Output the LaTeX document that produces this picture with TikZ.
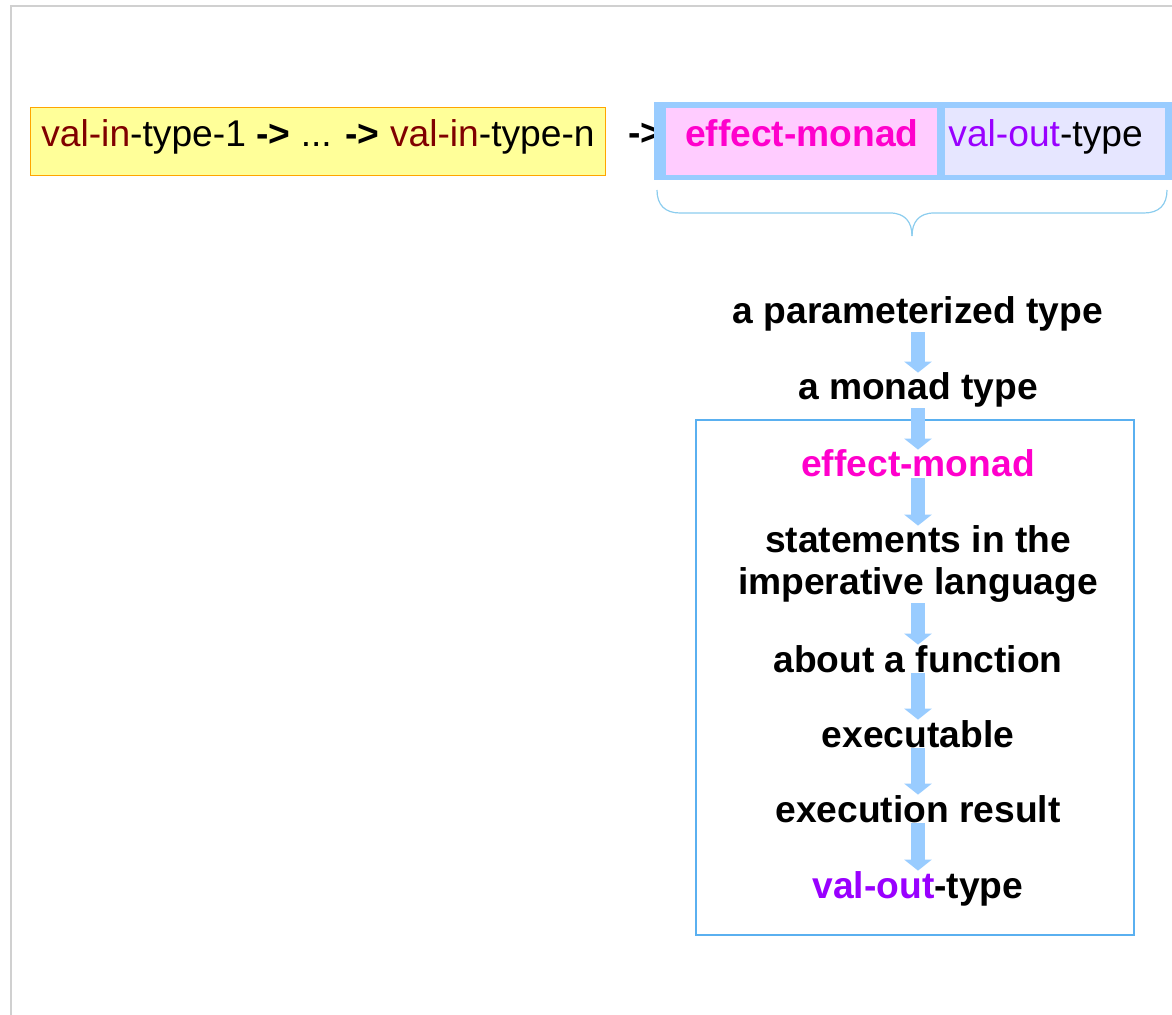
\documentclass[tikz,border=0pt]{standalone}
\usepackage{fontspec}
\setmainfont{Liberation Sans}
\usetikzlibrary{arrows.meta}
\definecolor{valin}{HTML}{800000}
\definecolor{effectc}{HTML}{FF00CC}
\definecolor{valout}{HTML}{9900FF}
\definecolor{flowblue}{HTML}{99CCFF}
\definecolor{yellowfill}{HTML}{FFFF99}
\definecolor{yellowline}{HTML}{FFA500}
\definecolor{pinkfill}{HTML}{FFCCFF}
\definecolor{lavfill}{HTML}{E6E6FF}
\definecolor{slideline}{HTML}{D0D0D0}
\definecolor{framebl}{HTML}{5AB0F0}
\definecolor{bracebl}{HTML}{8CCDEE}
\newcommand{\slidefont}{\fontsize{18.6pt}{21pt}\selectfont}
\begin{document}
\begin{tikzpicture}[x=0.5pt,y=-0.5pt,
  typebox/.style={anchor=north west, inner sep=0pt, text height=10pt, text depth=5pt, font=\slidefont},
  stage/.style={anchor=base, inner sep=0pt, align=center, font=\slidefont\bfseries},
  flow/.style={flowblue, line width=7pt, -{Triangle[width=13.5pt,length=5.5pt]}}]
\useasboundingbox (0,0) rectangle (1172,1015);
\draw[slideline, line width=0.75pt] (11,1015) -- (11,6) -- (1172,6);

\node[typebox, fill=yellowfill, draw=yellowline, line width=0.5pt, minimum width=287.5pt, minimum height=34pt] (intypes) at (30,107)
  {\textcolor{valin}{val-in}-type-1 \textbf{->} ... \textbf{->} \textcolor{valin}{val-in}-type-n};
\node[anchor=base west, inner sep=0pt, font=\slidefont\bfseries] (maparrow) at (628,146) {->};

\fill[flowblue] (654,102) rectangle (1172,180);
\node[typebox, fill=pinkfill, minimum width=135.5pt, minimum height=33.5pt] (effecttype) at (666,108)
  {\textbf{\textcolor{effectc}{effect-monad}}};
\node[typebox, fill=lavfill, minimum height=33.5pt, text width=107pt, inner xsep=1.5pt, align=left] (outtype) at (945,108)
  {\textcolor{valout}{val-out}-type};

\draw[bracebl, line width=0.6pt] (657,190) .. controls (657,205) and (665,213) .. (680,213) -- (890,213) .. controls (905,213) and (912,222) .. (912,236);
\draw[bracebl, line width=0.6pt] (1167,190) .. controls (1167,205) and (1159,213) .. (1144,213) -- (934,213) .. controls (919,213) and (912,222) .. (912,236);

\draw[framebl, line width=0.6pt] (696,420) rectangle (1134,935);

\node[stage] (param) at (918,324) {a parameterized type};
\node[stage] (monadt) at (918,400) {a monad type};
\node[stage] (effect) at (918,477) {\textcolor{effectc}{effect-monad}};
\node[stage] (stmts) at (918,595) {statements in the\\imperative language};
\node[stage] (about) at (918,672) {about a function};
\node[stage] (exec) at (918,747) {executable};
\node[stage] (result) at (918,822) {execution result};
\node[stage] (valouts) at (918,898) {\textcolor{valout}{val-out}-type};

\draw[flow] (param) -- (monadt);
\draw[flow] (monadt) -- (effect);
\draw[flow] (effect) -- (stmts);
\draw[flow] (stmts) -- (about);
\draw[flow] (about) -- (exec);
\draw[flow] (exec) -- (result);
\draw[flow] (result) -- (valouts);
\end{tikzpicture}
\end{document}
